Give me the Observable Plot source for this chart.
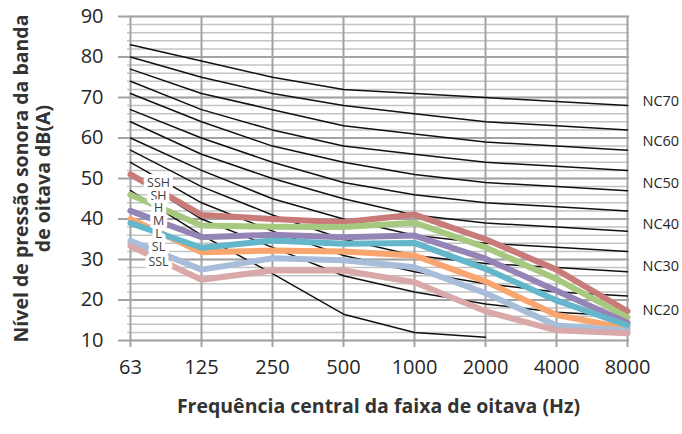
<!DOCTYPE html>
<html><head><meta charset="utf-8">
<script src="https://cdn.jsdelivr.net/npm/d3@7"></script>
<script src="https://cdn.jsdelivr.net/npm/@observablehq/plot@0.6"></script>
<style>body{margin:0;background:#fff;}</style>
</head><body><div id="chart"></div>
<script>
// Categories (octave band centre frequencies, Hz)
const freqs = ["63","125","250","500","1000","2000","4000","8000"];
const yTicks = [10,20,30,40,50,60,70,80,90];
const yMinorTicks = d3.range(10, 91, 2);

// NC reference curves
const ncNames = ["NC70","NC65","NC60","NC55","NC50","NC45","NC40","NC35","NC30","NC25","NC20","NC15"];
const nc70 = [83, 79, 75, 72, 71, 70, 69, 68];
const nc65 = [80, 75, 71, 68, 66, 64, 63, 62];
const nc60 = [77, 71, 67, 63, 61, 59, 58, 57];
const nc55 = [74, 67, 62, 58, 56, 54, 53, 52];
const nc50 = [71, 64, 58, 54, 51, 49, 48, 47];
const nc45 = [67, 60, 54, 49, 46, 44, 43, 42];
const nc40 = [64, 56, 50, 45, 41, 39, 38, 37];
const nc35 = [60, 52, 45, 40, 36, 34, 33, 32];
const nc30 = [57, 48, 41, 35, 31, 29, 28, 27];
const nc25 = [54, 44, 37, 31, 27, 24, 22, 21];
const nc20 = [51, 40, 33, 26, 22, 19, 17, 16];
const nc15 = [47, 36, 26.5, 16.5, 12, 10.8, null, null];
const ncValues = [nc70, nc65, nc60, nc55, nc50, nc45, nc40, nc35, nc30, nc25, nc20, nc15];

// Fan speed series
const seriesNames = ["SSH","SH","H","M","L","SL","SSL"];
const ssh = [51, 41, 40, 39.2, 41.1, 35, 27.5, 17.2];
const sh  = [46, 38.4, 38.1, 38, 39.1, 33, 25.2, 15.7];
const hh  = [42, 35.5, 36.1, 35.5, 35.9, 30.2, 22.3, 14.4];
const mm  = [40, 31.8, 32.2, 32, 31, 24.6, 16.3, 13];
const ll  = [39, 32.9, 34.7, 33.9, 34.1, 27.7, 19.9, 13.7];
const sl  = [34.6, 27.5, 30.3, 29.8, 28.1, 21.7, 13.7, 12.4];
const ssl = [33.3, 25, 27.3, 27.3, 24.4, 17.2, 12.5, 11.8];
const seriesValues = [ssh, sh, hh, mm, ll, sl, ssl];
const seriesColors = ["#c87b79", "#a6c87f", "#9584b6", "#f9a56f", "#64b6cb", "#a7bdd9", "#d9a8a9"];
const labelY = [48.8, 45.6, 42.6, 39.4, 36.2, 33.0, 29.5];

// Right-hand NC labels
const ncLabels = ["NC70","NC60","NC50","NC40","NC30","NC20"];
const ncLabelY = [69, 59.1, 48.8, 38.6, 28.3, 17.4];

const xTitle = "Frequência central da faixa de oitava (Hz)";
const yTitle = "Nível de pressão sonora da banda\nde oitava dB(A)";

const ncData = ncNames.flatMap((n, i) => freqs.map((f, j) => ({name: n, f, v: ncValues[i][j]})));
const seriesData = seriesNames.flatMap((s, i) => freqs.map((f, j) => ({s, f, v: seriesValues[i][j]})));
const legendData = seriesNames.map((s, i) => ({s, y: labelY[i]}));
const ncLabelData = ncLabels.map((t, i) => ({t, y: ncLabelY[i]}));

const plot = Plot.plot({
  width: 682, height: 434,
  marginLeft: 127, marginRight: 53, marginTop: 16, marginBottom: 94,
  style: {fontFamily: "'Open Sans', sans-serif", background: "#fff", color: "#262626"},
  x: {type: "point", domain: freqs, padding: 0},
  y: {domain: [10, 90]},
  color: {domain: seriesNames, range: seriesColors},
  marks: [
    Plot.gridY(yMinorTicks, {stroke: "#c4c4c4", strokeOpacity: 1, strokeWidth: 1.5}),
    Plot.gridY(yTicks, {stroke: "#a3a3a3", strokeOpacity: 1, strokeWidth: 2}),
    Plot.gridX(freqs, {stroke: "#a3a3a3", strokeOpacity: 1, strokeWidth: 2}),
    Plot.axisY(yTicks, {tickSize: 9, tickPadding: 15, fontSize: 20, stroke: "#a3a3a3", strokeWidth: 2, fill: "#262626", label: null}),
    Plot.axisX(freqs, {tickSize: 7, tickPadding: 12, fontSize: 20, stroke: "#a3a3a3", strokeWidth: 2, fill: "#262626", label: null}),
    Plot.line(ncData, {x: "f", y: "v", z: "name", stroke: "#111", strokeWidth: 1.5}),
    Plot.line(seriesData, {x: "f", y: "v", z: "s", stroke: "s", strokeWidth: 6, strokeLinejoin: "round"}),
    Plot.text(legendData, {x: () => "63", y: "y", text: "s", dx: 28, fontSize: 12.5, fill: "#404040", stroke: "white", strokeWidth: 8, paintOrder: "stroke"}),
    Plot.text(ncLabelData, {x: () => "8000", y: "y", text: "t", dx: 15, textAnchor: "start", fontSize: 14.5, fill: "#262626"}),
    Plot.text([xTitle], {frameAnchor: "bottom", dy: 72, fontSize: 19.5, fontWeight: "bold", fill: "#333"}),
    Plot.text([yTitle], {frameAnchor: "left", textAnchor: "middle", rotate: -90, dx: -96, fontSize: 19.5, fontWeight: "bold", fill: "#333", lineHeight: 1.13})
  ]
});
document.getElementById("chart").appendChild(plot);
</script>
</body></html>
